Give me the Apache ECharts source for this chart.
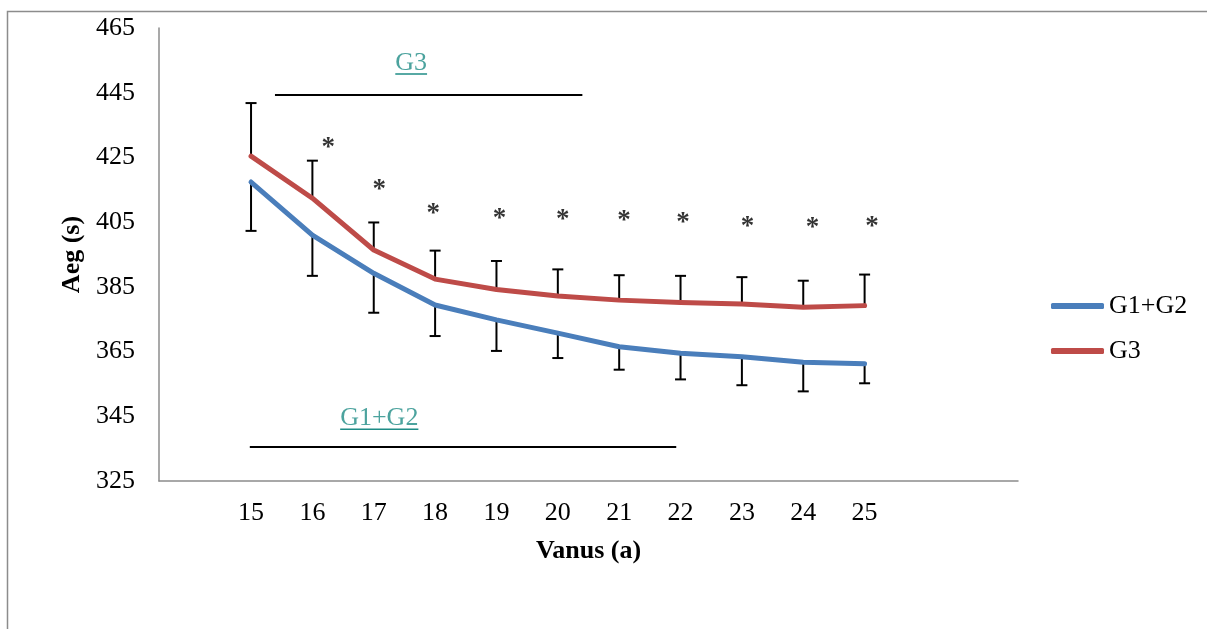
<!DOCTYPE html>
<html>
<head>
<meta charset="utf-8">
<script src="https://cdn.jsdelivr.net/npm/echarts@6/dist/echarts.min.js"></script>
<style>
html,body{margin:0;padding:0;background:#fff;}
#chart{width:1207px;height:629px;}
</style>
</head>
<body>
<div id="chart"></div>
<script>
// ---- data ----
const ages = [15, 16, 17, 18, 19, 20, 21, 22, 23, 24, 25];
const g12 = [417.4, 401.0, 389.2, 379.4, 374.8, 370.7, 366.5, 364.5, 363.4, 361.7, 361.2];
const g3 = [425.4, 412.4, 396.4, 387.4, 384.2, 382.2, 380.9, 380.2, 379.7, 378.7, 379.2];
const g3Plus = [16.4, 11.6, 8.5, 8.8, 8.8, 8.2, 7.7, 8.2, 8.3, 8.2, 9.6];
const g12Minus = [15.1, 12.6, 12.2, 9.6, 9.6, 7.7, 7.1, 8.1, 8.8, 9.0, 6.0];
const seriesNames = ['G1+G2', 'G3'];
// significance marks (*)
const starAges = [16.26, 17.09, 17.97, 19.05, 20.08, 21.08, 22.04, 23.09, 24.15, 25.12];
const starValues = [429.8, 416.8, 409.5, 407.9, 407.4, 407.2, 406.7, 405.3, 405.1, 405.3];
// bracket annotations
const g3Span = [15.39, 20.40];
const g3SpanValue = 444.3;
const g3LabelPos = [17.61, 454.2];
const g12Span = [14.98, 21.93];
const g12SpanValue = 335.6;
const g12LabelPos = [17.09, 344.4];

const FONT = 'Liberation Serif';
const BLUE = '#4A7EBB';
const RED = '#BE4B48';
const TEAL = '#1F8C86';

const chart = echarts.init(document.getElementById('chart'), null, {renderer: 'canvas'});

function errRender(values, errs, dir) {
  return function (params, api) {
    const i = params.dataIndex;
    const x = ages[i];
    const p0 = api.coord([x, values[i]]);
    const p1 = api.coord([x, values[i] + dir * errs[i]]);
    const hw = 5.5;
    const st = {stroke: '#000', lineWidth: 2};
    return {
      type: 'group',
      children: [
        {type: 'line', shape: {x1: p0[0], y1: p0[1], x2: p1[0], y2: p1[1]}, style: st},
        {type: 'line', shape: {x1: p1[0] - hw, y1: p1[1], x2: p1[0] + hw, y2: p1[1]}, style: st}
      ]
    };
  };
}

const option = {
  animation: false,
  backgroundColor: '#fff',
  graphic: [{
    type: 'rect',
    shape: {x: 7.5, y: 11.5, width: 1400, height: 800},
    style: {fill: 'none', stroke: '#8C8C8C', lineWidth: 1.5},
    silent: true
  }],
  grid: {left: 159, right: 189, top: 28, bottom: 148, containLabel: false},
  legend: {
    data: seriesNames,
    orient: 'vertical',
    left: 1046,
    top: 288,
    itemWidth: 53,
    itemHeight: 6,
    itemGap: 19,
    icon: 'roundRect',
    textStyle: {fontFamily: FONT, fontSize: 26, color: '#000'}
  },
  xAxis: {
    type: 'value',
    min: 13.5,
    max: 27.5,
    name: 'Vanus (a)',
    nameLocation: 'middle',
    nameGap: 57,
    nameTextStyle: {fontFamily: FONT, fontSize: 26, fontWeight: 'bold', color: '#000'},
    axisLine: {show: true, lineStyle: {color: '#8C8C8C', width: 1.5}},
    axisTick: {show: false},
    splitLine: {show: false},
    axisLabel: {
      customValues: ages,
      margin: 19,
      fontFamily: FONT, fontSize: 26, color: '#000'
    }
  },
  yAxis: {
    type: 'value',
    min: 325,
    max: 465,
    interval: 20,
    name: 'Aeg (s)',
    nameLocation: 'middle',
    nameRotate: 90,
    nameGap: 69,
    nameTextStyle: {fontFamily: FONT, fontSize: 26, fontWeight: 'bold', color: '#000'},
    axisLine: {show: true, lineStyle: {color: '#8C8C8C', width: 1.5}},
    axisTick: {show: false},
    splitLine: {show: false},
    axisLabel: {margin: 24, fontFamily: FONT, fontSize: 26, color: '#000'}
  },
  series: [
    {
      name: 'G3 error',
      type: 'custom',
      renderItem: errRender(g3, g3Plus, 1),
      data: ages.map((a, i) => [a, g3[i]]),
      z: 1, silent: true
    },
    {
      name: 'G1+G2 error',
      type: 'custom',
      renderItem: errRender(g12, g12Minus, -1),
      data: ages.map((a, i) => [a, g12[i]]),
      z: 1, silent: true
    },
    {
      name: seriesNames[0],
      type: 'line',
      data: ages.map((a, i) => [a, g12[i]]),
      symbol: 'none',
      lineStyle: {color: BLUE, width: 5, cap: 'round', join: 'round'},
      itemStyle: {color: BLUE},
      z: 3
    },
    {
      name: seriesNames[1],
      type: 'line',
      data: ages.map((a, i) => [a, g3[i]]),
      symbol: 'none',
      lineStyle: {color: RED, width: 5, cap: 'round', join: 'round'},
      itemStyle: {color: RED},
      z: 3
    },
    {
      name: 'stars',
      type: 'scatter',
      data: starAges.map((a, i) => [a, starValues[i]]),
      symbolSize: 0,
      silent: true,
      label: {
        show: true, position: 'inside', formatter: '*', offset: [0, 6],
        fontFamily: FONT, fontSize: 27, fontWeight: 'bold', color: '#000'
      },
      z: 4
    },
    {
      name: 'annotations',
      type: 'scatter',
      data: [
        {value: g3LabelPos, label: {formatter: 'G3'}},
        {value: g12LabelPos, label: {formatter: 'G1+G2'}}
      ],
      symbolSize: 0,
      silent: true,
      label: {show: true, position: 'inside', fontFamily: FONT, fontSize: 26, color: TEAL},
      markLine: {
        silent: true,
        symbol: ['none', 'none'],
        label: {show: false},
        data: [
          [{coord: [g3Span[0], g3SpanValue], lineStyle: {color: '#000', width: 2, type: 'solid'}},
           {coord: [g3Span[1], g3SpanValue]}],
          [{coord: [g12Span[0], g12SpanValue], lineStyle: {color: '#000', width: 2, type: 'solid'}},
           {coord: [g12Span[1], g12SpanValue]}]
        ]
      },
      z: 4
    }
  ]
};
chart.setOption(option);

// underline for the teal annotation texts, measured from rendered text width
function addUnderlines() {
  const ctx = document.createElement('canvas').getContext('2d');
  ctx.font = '26px "' + FONT + '"';
  const items = [['G3', g3LabelPos], ['G1+G2', g12LabelPos]];
  const lines = items.map(([t, pos]) => {
    const c = chart.convertToPixel({gridIndex: 0}, pos);
    const w = ctx.measureText(t).width;
    const y = c[1] + 11;
    return {
      type: 'line',
      shape: {x1: c[0] - w / 2, y1: y, x2: c[0] + w / 2, y2: y},
      style: {stroke: TEAL, lineWidth: 1.5},
      silent: true
    };
  });
  chart.setOption({graphic: option.graphic.concat(lines)});
}
addUnderlines();
</script>
</body>
</html>
